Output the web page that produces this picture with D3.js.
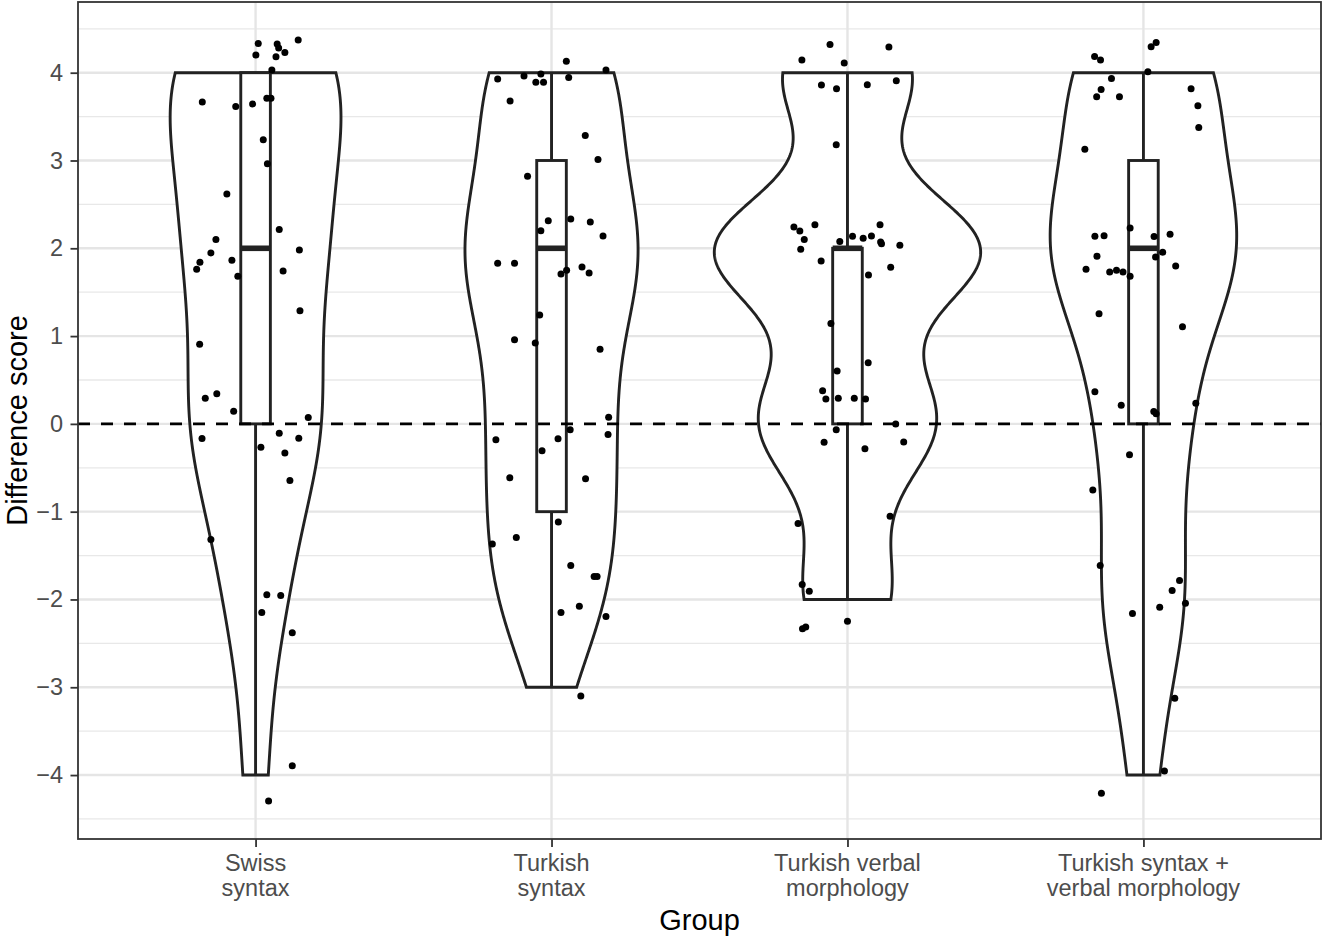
<!DOCTYPE html>
<html><head><meta charset="utf-8">
<script src="https://cdn.jsdelivr.net/npm/d3@7"></script>
<style>body{margin:0;background:#fff}svg{display:block}</style>
</head><body><svg id="c" width="1323" height="937"></svg>
<script>
// ---------- data ----------
const groups = ["Swiss syntax", "Turkish syntax", "Turkish verbal morphology", "Turkish syntax + verbal morphology"];
const groupLabels = [["Swiss", "syntax"], ["Turkish", "syntax"], ["Turkish verbal", "morphology"], ["Turkish syntax +", "verbal morphology"]];
const yTicks = [-4, -3, -2, -1, 0, 1, 2, 3, 4];
const yMinorTicks = [-4.5, -3.5, -2.5, -1.5, -0.5, 0.5, 1.5, 2.5, 3.5, 4.5];
const refLine = 0;

// jittered difference scores (as plotted) and horizontal jitter (category widths)
const swissScore = [4.333,4.201,4.326,4.281,4.231,4.182,4.372,4.031,3.667,3.614,3.644,3.708,3.708,3.235,2.963,2.617,2.099,1.947,1.841,1.761,1.864,1.682,2.213,1.981,1.742,1.288,0.906,0.292,0.344,0.144,0.072,-0.167,-0.106,-0.163,-0.267,-0.333,-0.644,-1.318,-1.947,-1.955,-2.148,-2.378,-3.894,-4.295];
const swissJitter = [0.009,0.001,0.073,0.078,0.099,0.069,0.144,0.055,-0.180,-0.067,-0.010,0.038,0.052,0.026,0.040,-0.097,-0.134,-0.151,-0.188,-0.199,-0.080,-0.060,0.080,0.148,0.093,0.150,-0.189,-0.170,-0.131,-0.074,0.178,-0.181,0.080,0.146,0.018,0.099,0.116,-0.151,0.038,0.085,0.021,0.124,0.124,0.044];

const tSyntaxScore = [3.928,3.963,3.985,3.890,3.890,4.131,3.945,4.032,3.678,3.284,3.011,2.822,2.315,2.201,2.333,2.299,2.140,1.830,1.830,1.708,1.750,1.788,1.719,1.239,0.958,0.920,0.849,0.076,-0.068,-0.122,-0.182,-0.170,-0.307,-0.614,-0.625,-1.117,-1.367,-1.295,-1.614,-1.739,-1.739,-2.148,-2.076,-2.193,-3.099];
const tSyntaxJitter = [-0.182,-0.093,-0.036,-0.053,-0.027,0.050,0.058,0.184,-0.140,0.114,0.157,-0.081,-0.011,-0.036,0.065,0.131,0.174,-0.182,-0.125,0.032,0.051,0.103,0.127,-0.040,-0.125,-0.055,0.164,0.193,0.063,0.191,-0.188,0.022,-0.032,-0.141,0.115,0.023,-0.200,-0.119,0.065,0.144,0.154,0.032,0.094,0.184,0.099];

const tVerbalScore = [4.144,4.322,4.110,3.860,3.818,3.864,4.292,3.909,3.178,2.242,2.197,2.099,1.989,2.269,2.076,2.136,2.114,2.140,2.269,2.072,2.051,2.034,1.856,1.784,1.697,1.144,0.697,0.602,0.378,0.284,0.292,0.292,0.284,-0.068,-0.208,-0.284,0.000,-0.205,-1.053,-1.136,-1.830,-1.906,-2.333,-2.315,-2.247];
const tVerbalJitter = [-0.154,-0.059,-0.011,-0.088,-0.037,0.067,0.140,0.165,-0.038,-0.181,-0.161,-0.146,-0.158,-0.110,-0.026,0.017,0.053,0.081,0.110,0.112,0.115,0.177,-0.089,0.146,0.071,-0.056,0.070,-0.035,-0.084,-0.073,-0.031,0.023,0.061,-0.038,-0.079,0.059,0.163,0.190,0.144,-0.167,-0.153,-0.129,-0.152,-0.141,0.000];

const tBothScore = [4.185,4.144,4.295,4.344,4.011,3.935,3.810,3.727,3.727,3.818,3.625,3.375,3.128,2.231,2.136,2.144,2.133,2.159,1.909,1.955,1.901,1.761,1.731,1.750,1.731,1.682,1.799,1.253,1.106,0.367,0.213,0.235,0.140,0.114,-0.352,-0.753,-1.614,-1.784,-1.898,-2.088,-2.042,-2.159,-3.125,-3.955,-4.208];
const tBothJitter = [-0.165,-0.145,0.026,0.043,0.015,-0.108,-0.143,-0.158,-0.081,0.161,0.184,0.187,-0.198,-0.045,-0.164,-0.133,0.036,0.090,-0.157,0.065,0.041,-0.194,-0.114,-0.091,-0.069,-0.045,0.109,-0.150,0.132,-0.164,-0.075,0.177,0.035,0.043,-0.047,-0.171,-0.146,0.122,0.097,0.055,0.142,-0.037,0.106,0.071,-0.142];

const scoreSets = [swissScore, tSyntaxScore, tVerbalScore, tBothScore];
const jitterSets = [swissJitter, tSyntaxJitter, tVerbalJitter, tBothJitter];

// ---------- layout ----------
const W = 1323, H = 937;
const panel = {left: 78, right: 1321, top: 2, bottom: 839};
const FONT = "'Liberation Sans', Arial, Helvetica, sans-serif";

const svg = d3.select("#c");

const x = d3.scalePoint().domain(groups).range([panel.left, panel.right]).padding(0.6);
const step = x.step();

// raw (unjittered) integer scores underlying each group
const raw = scoreSets.map(s => s.map(v => Math.round(v)));

const allVals = scoreSets.flat().concat(raw.flat());
const lo = d3.min(allVals), hi = d3.max(allVals);
const pad = (hi - lo) * 0.05;
const y = d3.scaleLinear().domain([lo - pad, hi + pad]).range([panel.bottom, panel.top]);

// ---------- stats ----------
function bwNrd0(v) {
  const s = v.slice().sort((a, b) => a - b);
  const sd = d3.deviation(s);
  const iqr = d3.quantileSorted(s, 0.75) - d3.quantileSorted(s, 0.25);
  let m = Math.min(sd, iqr / 1.34);
  if (!(m > 0)) m = sd || 1;
  return 0.9 * m * Math.pow(s.length, -0.2);
}
function kde(v) {
  const bw = bwNrd0(v), n = v.length;
  const mn = d3.min(v), mx = d3.max(v);
  const pts = [];
  for (let i = 0; i < 512; i++) {
    const t = mn + (mx - mn) * i / 511;
    let s = 0;
    for (const xi of v) { const z = (t - xi) / bw; s += Math.exp(-0.5 * z * z); }
    pts.push({v: t, d: s / (n * bw * Math.sqrt(2 * Math.PI))});
  }
  return pts;
}
const dens = raw.map(kde);
const maxD = d3.max(dens.flat(), d => d.d);

function boxStats(v) {
  const s = v.slice().sort((a, b) => a - b);
  const q1 = d3.quantileSorted(s, 0.25), med = d3.quantileSorted(s, 0.5), q3 = d3.quantileSorted(s, 0.75);
  const iqr = q3 - q1;
  const lw = d3.min(s.filter(d => d >= q1 - 1.5 * iqr));
  const uw = d3.max(s.filter(d => d <= q3 + 1.5 * iqr));
  return {q1, med, q3, lw, uw};
}
const boxes = raw.map(boxStats);

// ---------- background / grid ----------
svg.append("rect").attr("width", W).attr("height", H).attr("fill", "#fff");
const grid = svg.append("g");
grid.selectAll(".ymin").data(yMinorTicks).join("line")
  .attr("x1", panel.left).attr("x2", panel.right)
  .attr("y1", d => y(d)).attr("y2", d => y(d))
  .attr("stroke", "#e8e8e8").attr("stroke-width", 1.3);
grid.selectAll(".ymaj").data(yTicks).join("line")
  .attr("x1", panel.left).attr("x2", panel.right)
  .attr("y1", d => y(d)).attr("y2", d => y(d))
  .attr("stroke", "#e5e5e5").attr("stroke-width", 2.4);
grid.selectAll(".xmaj").data(groups).join("line")
  .attr("x1", d => x(d)).attr("x2", d => x(d))
  .attr("y1", panel.top).attr("y2", panel.bottom)
  .attr("stroke", "#e5e5e5").attr("stroke-width", 2.4);

// ---------- violins ----------
const half = 0.9 * step / 2;
groups.forEach((g, i) => {
  const cx = x(g);
  const area = d3.area()
    .y(d => y(d.v))
    .x0(d => cx - half * d.d / maxD)
    .x1(d => cx + half * d.d / maxD);
  svg.append("path").datum(dens[i]).attr("d", area)
    .attr("fill", "#fff").attr("stroke", "#222").attr("stroke-width", 2.9)
    .attr("stroke-linejoin", "miter");
});

// ---------- boxplots ----------
const bw = 0.1 * step;
groups.forEach((g, i) => {
  const cx = x(g), b = boxes[i];
  const gg = svg.append("g").attr("stroke", "#222").attr("stroke-width", 2.9);
  if (b.uw > b.q3) gg.append("line").attr("x1", cx).attr("x2", cx).attr("y1", y(b.q3)).attr("y2", y(b.uw));
  if (b.lw < b.q1) gg.append("line").attr("x1", cx).attr("x2", cx).attr("y1", y(b.q1)).attr("y2", y(b.lw));
  gg.append("rect").attr("x", cx - bw / 2).attr("width", bw)
    .attr("y", y(b.q3)).attr("height", y(b.q1) - y(b.q3)).attr("fill", "#fff");
  gg.append("line").attr("x1", cx - bw / 2).attr("x2", cx + bw / 2)
    .attr("y1", y(b.med)).attr("y2", y(b.med)).attr("stroke-width", 5.6);
});

// ---------- reference line ----------
svg.append("line").attr("x1", panel.left).attr("x2", panel.right)
  .attr("y1", y(refLine)).attr("y2", y(refLine))
  .attr("stroke", "#000").attr("stroke-width", 2.9).attr("stroke-dasharray", "12,11");

// ---------- points ----------
groups.forEach((g, i) => {
  const cx = x(g);
  svg.append("g").selectAll("circle").data(scoreSets[i].map((v, k) => ({v, j: jitterSets[i][k]})))
    .join("circle")
    .attr("cx", d => cx + d.j * step).attr("cy", d => y(d.v)).attr("r", 3.5).attr("fill", "#000");
});

// ---------- panel border ----------
svg.append("rect").attr("x", panel.left).attr("y", panel.top)
  .attr("width", panel.right - panel.left).attr("height", panel.bottom - panel.top)
  .attr("fill", "none").attr("stroke", "#333").attr("stroke-width", 1.8);

// ---------- axes ----------
const yAxis = svg.append("g").attr("transform", `translate(${panel.left},0)`)
  .call(d3.axisLeft(y).tickValues(yTicks).tickSize(7.5).tickPadding(7.5));
yAxis.select(".domain").remove();
yAxis.selectAll("line").attr("stroke", "#333").attr("stroke-width", 1.8);
yAxis.selectAll("text").attr("fill", "#4d4d4d").style("font-family", FONT).style("font-size", "23.5px");

const xAxis = svg.append("g").attr("transform", `translate(0,${panel.bottom})`)
  .call(d3.axisBottom(x).tickSize(8).tickFormat(""));
xAxis.select(".domain").remove();
xAxis.selectAll("line").attr("stroke", "#333").attr("stroke-width", 1.8);

groups.forEach((g, i) => {
  const t = svg.append("text").attr("x", x(g)).attr("y", 871)
    .attr("text-anchor", "middle").attr("fill", "#4d4d4d")
    .style("font-family", FONT).style("font-size", "23.5px");
  groupLabels[i].forEach((line, k) => {
    t.append("tspan").attr("x", x(g)).attr("dy", k === 0 ? 0 : 25).text(line);
  });
});

// ---------- titles ----------
svg.append("text").attr("x", (panel.left + panel.right) / 2).attr("y", 930)
  .attr("text-anchor", "middle").attr("fill", "#000")
  .style("font-family", FONT).style("font-size", "29px").text("Group");
svg.append("text").attr("transform", `translate(26.5,${(panel.top + panel.bottom) / 2}) rotate(-90)`)
  .attr("text-anchor", "middle").attr("fill", "#000")
  .style("font-family", FONT).style("font-size", "29px").text("Difference score");
</script></body></html>
